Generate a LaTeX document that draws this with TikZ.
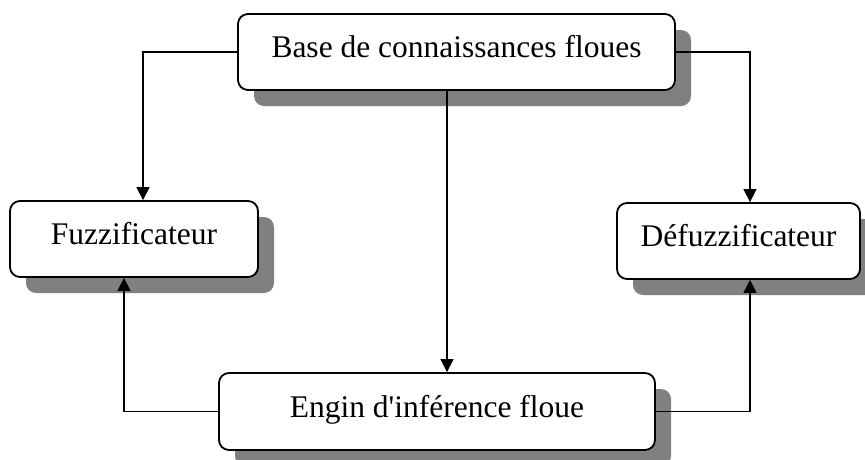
\documentclass[tikz,border=0pt]{standalone}
\usepackage{fontspec}
\setmainfont{Liberation Serif}
\usetikzlibrary{arrows.meta,shadows}
\tikzset{
  block/.style={draw, line width=1.8pt, rounded corners=10pt, fill=white,
    inner sep=0pt, text height=22.5pt, text depth=11pt,
    font=\fontsize{31.5}{38}\selectfont,
    drop shadow={shadow xshift=16pt, shadow yshift=-16pt, fill=black!50, opacity=1}},
  link/.style={line width=1.4pt, -{Triangle[length=13pt,width=13pt]}},
  plain/.style={line width=1.4pt}
}
\begin{document}
\begin{tikzpicture}[x=1pt,y=1pt]
  \useasboundingbox (0,0) rectangle (865,-459);
  % components of the fuzzy controller
  \node[block, minimum width=437pt, minimum height=76pt] (kb) at (456.5,-52)
    {Base de connaissances floues\hspace{15pt}};
  \node[block, minimum width=248pt, minimum height=76pt] (fuzz) at (134,-239)
    {Fuzzificateur};
  \node[block, minimum width=243pt, minimum height=76pt] (defuzz) at (738.5,-241)
    {Défuzzificateur};
  \node[block, minimum width=436pt, minimum height=77pt] (inf) at (437,-411.5)
    {Engin d\textquotesingle inférence floue};
  % connection points on the boxes
  \coordinate (fuzzIn)  at ([xshift=9pt]fuzz.north);
  \coordinate (fuzzOut) at ([xshift=-10pt]fuzz.south);
  \coordinate (defIn)   at ([xshift=11.5pt]defuzz.north);
  \coordinate (defOut)  at ([xshift=11.5pt]defuzz.south);
  \coordinate (kbOut)   at ([xshift=-9.5pt]kb.south);
  % connectors
  \draw[link] (kb.west) -| (fuzzIn);
  \draw[link] (kb.east) -| (defIn);
  \draw[link] (kbOut) -- (kbOut |- inf.north);
  \draw[link] (inf.west) -| (fuzzOut);
  \draw[link] (inf.east) -| (defOut);
\end{tikzpicture}
\end{document}
